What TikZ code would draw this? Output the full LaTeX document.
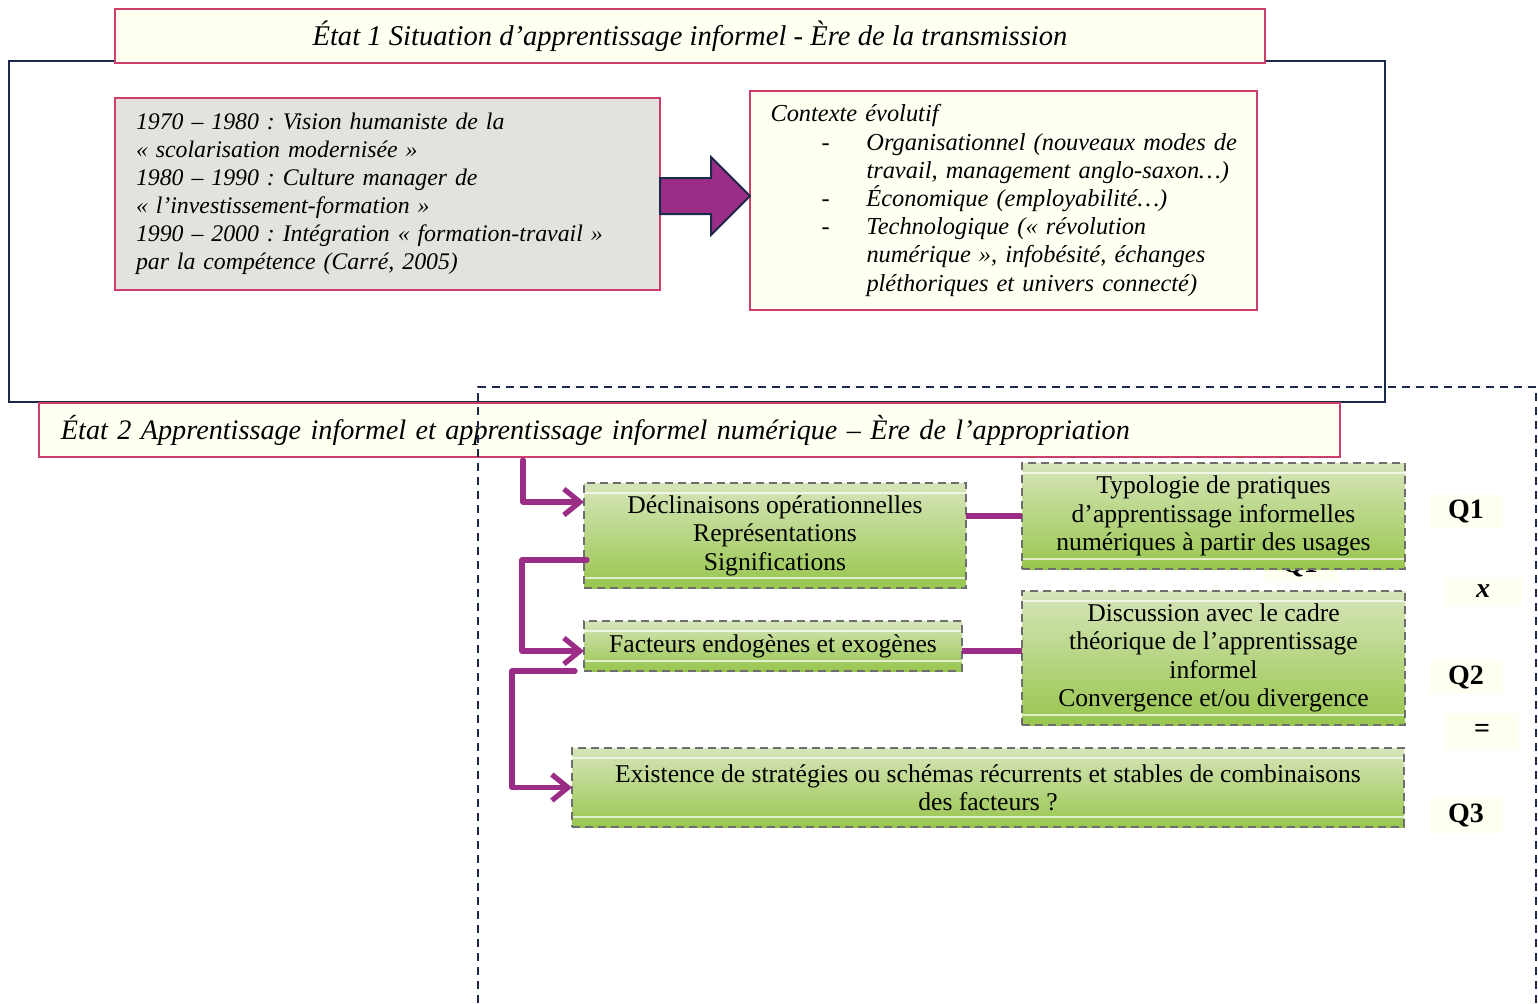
\documentclass[tikz,border=0pt]{standalone}
\usepackage{fontspec}
\setmainfont{Liberation Serif}
\usetikzlibrary{positioning,arrows.meta,calc}
\definecolor{cadre}{RGB}{205,62,106}
\definecolor{ivoire}{RGB}{255,255,242}
\definecolor{gris}{RGB}{227,226,222}
\definecolor{marine}{RGB}{27,42,74}
\definecolor{violet}{RGB}{155,45,135}
\definecolor{vertclair}{RGB}{215,229,186}
\definecolor{vertfonce}{RGB}{152,198,78}
\definecolor{tiret}{RGB}{110,110,110}
\frenchspacing
\newcommand{\puce}{\makebox[50.5pt][l]{\hspace{28pt}-}}
\newcommand{\suite}{\hspace*{50.5pt}}
\tikzset{
  taille/.style 2 args={
    minimum width={#1*0.5pt},
    minimum height={#2*0.5pt}
  },
  etat/.style={
    draw=cadre,
    line width=1.4pt,
    fill=ivoire,
    inner sep=0pt,
    outer sep=0pt,
    anchor=north west,
    font=\itshape\fontsize{14.3}{16}\selectfont
  },
  zone/.style={
    draw=marine,
    line width=1.2pt,
    inner sep=0pt,
    outer sep=0pt,
    anchor=north west
  },
  encadre/.style={
    draw=cadre,
    line width=1.4pt,
    inner xsep=10.5pt,
    inner ysep=0pt,
    outer sep=0pt,
    anchor=north west,
    align=left
  },
  vert/.style={
    draw=tiret,
    line width=1.1pt,
    dash pattern=on 4pt off 2.5pt,
    top color=vertclair,
    bottom color=vertfonce,
    inner sep=0pt,
    outer sep=0pt,
    anchor=north west,
    align=center,
    font=\fontsize{12.8}{14.2}\selectfont,
    path picture={
      \draw[white, solid, line width=0.6pt, opacity=0.7]
        ([yshift=-5pt]path picture bounding box.north west) --
        ([yshift=-5pt]path picture bounding box.north east);
      \draw[white, solid, line width=0.6pt, opacity=0.7]
        ([yshift=5pt]path picture bounding box.south west) --
        ([yshift=5pt]path picture bounding box.south east);
    }
  },
  question/.style={
    fill=ivoire,
    inner sep=0pt,
    font=\bfseries\fontsize{14}{16}\selectfont
  },
  fleche/.style={
    draw=violet,
    line width=2.6pt,
    line cap=round,
    line join=round,
    -{Straight Barb[length=8pt,width=13pt]}
  },
  lien/.style={
    draw=violet,
    line width=2.6pt
  },
  bloc/.style={
    fill=violet,
    draw=marine,
    line width=1pt,
    line join=miter
  },
  pointille/.style={
    draw=marine,
    line width=1pt,
    dash pattern=on 4pt off 3pt
  }
}

\begin{document}
\begin{tikzpicture}[x=0.5pt,y=-0.5pt]
\useasboundingbox (0,0) rectangle (1538,1003);

% etat 1
\node[zone, taille={1376}{341}] (zone1) at (9,61) {};
\node[etat, taille={1150}{54}] (etat1) at (115,9)
  {État 1 Situation d’apprentissage informel - Ère de la transmission};

\node[encadre, fill=gris, taille={545}{192}, text width=251.5pt,
  font=\itshape\fontsize{11.9}{14}\selectfont] (periodes) at (115,98)
{
1970 – 1980 : Vision humaniste de la\\
« scolarisation modernisée »\\
1980 – 1990 : Culture manager de\\
« l’investissement-formation »\\
1990 – 2000 : Intégration « formation-travail »\\
par la compétence (Carré, 2005)
};

\node[encadre, fill=ivoire, taille={507}{219}, text width=238pt, inner xsep=7.75pt,
  font=\itshape\fontsize{12.2}{14.1}\selectfont] (contexte) at (750,91)
{
\hspace*{2.5pt}Contexte évolutif\\
\puce Organisationnel (nouveaux modes de\\
\suite travail, management anglo-saxon…)\\
\puce Économique (employabilité…)\\
\puce Technologique (« révolution\\
\suite numérique », infobésité, échanges\\
\suite pléthoriques et univers connecté)
};

\draw[bloc] (periodes.east) ++(0,-16) -- ++(51,0) -- ++(0,-21) -- ++(39,39)
  -- ++(-39,39) -- ++(0,-21) -- ++(-51,0) -- cycle;

% etat 2
\node[etat, taille={1301}{54}, align=left, inner xsep=11pt, text width=628.5pt,
  font=\itshape\fontsize{14.1}{16}\selectfont] (etat2) at (39,403)
  {État 2 Apprentissage informel et apprentissage informel numérique – Ère de l’appropriation};

\draw[pointille] (478,1003) -- (478,387) -- (1536,387) -- (1536,1003);

\node[question, taille={75}{33}] (q1cache) at (1300,565) {Q1};

\node[vert, taille={382}{105}] (declin) at (584,483)
  {Déclinaisons opérationnelles\\Représentations\\Significations};
\node[vert, taille={378}{50}] (facteurs) at (584,621)
  {Facteurs endogènes et exogènes};
\node[vert, taille={832}{79}] (strateg) at (572,748)
  {Existence de stratégies ou schémas récurrents et stables de combinaisons\\des facteurs ?};
\node[vert, taille={383}{106}] (typo) at (1022,463)
  {Typologie de pratiques\\d’apprentissage informelles\\numériques à partir des usages};
\node[vert, taille={383}{134}] (discu) at (1022,591)
  {Discussion avec le cadre\\théorique de l’apprentissage\\informel\\Convergence et/ou divergence};

\node[question, taille={73}{33}] (q1) at (1466,511) {Q1};
\node[question, taille={77}{27}] (fois) at (1483,591) {\raisebox{-5pt}{\itshape x}};
\node[question, taille={73}{34}] (q2) at (1466,677) {Q2};
\node[question, taille={74}{37}] (egal) at (1482,731) {=};
\node[question, taille={73}{36}] (q3) at (1466,815) {Q3};

\coordinate (depart) at (523,460);
\draw[fleche] (depart) |- ($(declin.north west)+(0,19)$);
\draw[fleche] ($(declin.south west)+(3,-28)$) -- ++(-65,0) |- ($(facteurs.west)+(0,5)$);
\draw[fleche] ($(facteurs.south west)+(-9,0)$) -- ++(-63,0) |- (strateg.west);
\draw[lien] (typo.west -| declin.east) -- (typo.west);
\draw[lien] ($(facteurs.east)+(0,5)$) -- ($(facteurs.east -| discu.west)+(0,5)$);
\end{tikzpicture}
\end{document}
